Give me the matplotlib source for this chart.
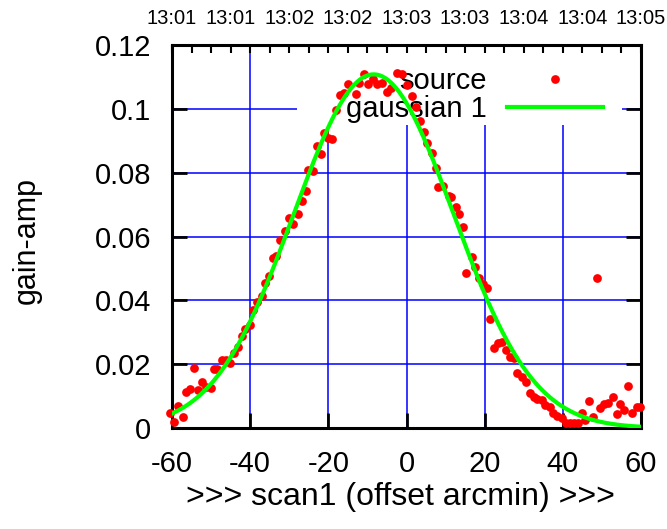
import matplotlib
matplotlib.use("Agg")
import matplotlib.pyplot as plt
import numpy as np
from matplotlib.patches import Rectangle

plt.rcParams['font.family'] = ['Liberation Sans', 'DejaVu Sans']
plt.rcParams['axes.unicode_minus'] = False

# scan data (offset arcmin, gain-amp)
scan_x = [-60.5, -59.4, -58.4, -57.3, -56.3, -55.3, -54.3, -53.3, -52.2, -51.2,
          -50.1, -49.2, -48.4, -47.2, -46.3, -45.1, -44.2, -43.2, -42.2, -41.2,
          -40.0, -39.4, -38.2, -37.1, -36.3, -35.1, -34.2, -33.3, -32.3, -31.2,
          -30.0, -29.0, -27.8, -26.8, -25.8, -25.1, -24.0, -23.0, -22.0, -21.1,
          -20.0, -19.0, -18.0, -17.1, -16.0, -14.9, -13.0, -12.1, -10.9, -9.8,
          -8.6, -7.5, -6.2, -5.1, -4.0, -2.5, -1.2, 0.2, 1.3, 2.4,
          3.5, 4.5, 5.3, 6.5, 7.6, 8.1, 9.4, 11.0, 11.5, 12.7,
          13.5, 14.5, 15.3, 16.7, 17.6, 18.5, 19.5, 20.5, 21.4, 22.4,
          23.5, 24.5, 25.5, 26.5, 27.4, 28.4, 29.5, 30.6, 31.6, 32.5,
          33.5, 34.6, 35.4, 36.6, 37.6, 38.6, 39.7, 40.8, 41.8, 42.9,
          44.0, 44.8, 45.7, 46.8, 47.6, 48.7, 49.5, 50.5, 51.6, 52.8,
          53.8, 54.6, 55.7, 56.8, 57.8, 58.9, 59.8]
scan_y = [0.0047, 0.0018, 0.0069, 0.0033, 0.0114, 0.0121, 0.0189, 0.0119, 0.0145, 0.0130,
          0.0125, 0.0184, 0.0185, 0.0213, 0.0213, 0.0205, 0.0234, 0.0254, 0.0287, 0.0311,
          0.0324, 0.0371, 0.0395, 0.0414, 0.0453, 0.0475, 0.0533, 0.0538, 0.0590, 0.0617,
          0.0657, 0.0638, 0.0669, 0.0711, 0.0741, 0.0808, 0.0804, 0.0884, 0.0858, 0.0923,
          0.0908, 0.0905, 0.0996, 0.1043, 0.1050, 0.1078, 0.1048, 0.1082, 0.1110, 0.1078,
          0.1094, 0.1079, 0.1082, 0.1054, 0.1064, 0.1111, 0.1109, 0.1075, 0.1040, 0.1005,
          0.0963, 0.0928, 0.0892, 0.0861, 0.0814, 0.0756, 0.0758, 0.0727, 0.0725, 0.0693,
          0.0670, 0.0629, 0.0486, 0.0537, 0.0505, 0.0470, 0.0450, 0.0440, 0.0340, 0.0250,
          0.0267, 0.0268, 0.0244, 0.0223, 0.0218, 0.0173, 0.0159, 0.0145, 0.0111, 0.0096,
          0.0090, 0.0088, 0.0072, 0.0065, 0.0046, 0.0038, 0.0030, 0.0017, 0.0015, 0.0015,
          0.0015, 0.0046, 0.0025, 0.0086, 0.0035, 0.0469, 0.0062, 0.0075, 0.0077, 0.0098,
          0.0044, 0.0075, 0.0056, 0.0132, 0.0048, 0.0067, 0.0065]

# gaussian fit parameters
fit_amp = 0.1108
fit_center = -8.4
fit_sigma = 20.4

# top axis time labels
time_pos = [-60, -45, -30, -15, 0, 15, 30, 45, 60]
time_labels = ['13:01', '13:01', '13:02', '13:02', '13:03', '13:03', '13:04', '13:04', '13:05']

fig = plt.figure(figsize=(6.67, 5.29), dpi=100)
ax = fig.add_axes([172/667, 1 - 428/529, 469/667, 383/529])

fx = np.linspace(-60, 60, 400)
fy = fit_amp * np.exp(-(fx - fit_center)**2 / (2 * fit_sigma**2))

ax.plot(scan_x, scan_y, 'o', color='#ff0000', markersize=6.3, markeredgewidth=0,
        label='source', zorder=3, clip_on=False)
ax.plot(fx, fy, '-', color='#00ff00', linewidth=3, label='gaussian 1', zorder=4)

ax.set_xlim(-60, 60)
ax.set_ylim(0, 0.12)
ax.set_xticks([-60, -40, -20, 0, 20, 40, 60])
ax.set_yticks([0, 0.02, 0.04, 0.06, 0.08, 0.1, 0.12])
ax.set_yticklabels(['0', '0.02', '0.04', '0.06', '0.08', '0.1', '0.12'])
ax.set_axisbelow(True)
ax.grid(True, color='#0000ff', linewidth=1.1)
ax.tick_params(axis='both', direction='in', length=11, width=2, labelsize=21,
               top=True, right=True, labeltop=False)
ax.tick_params(axis='x', pad=16)
ax.tick_params(axis='y', pad=15)
for s in ax.spines.values():
    s.set_linewidth(2.2)

# white key area covering the grid
ax.add_patch(Rectangle((0.2665, 0.791), 0.692, 0.209, transform=ax.transAxes,
                       facecolor='white', edgecolor='none', zorder=1))

leg = ax.legend(loc='upper right', bbox_to_anchor=((603 - 172) / 469, (428 - 67) / 383),
                markerfirst=False, frameon=False, fontsize=21, handlelength=3.3,
                handletextpad=0.7, labelspacing=0.0, borderpad=0, borderaxespad=0,
                numpoints=1)
leg.set_zorder(2)

ax2 = ax.twiny()
ax2.set_xlim(-60, 60)
ax2.set_xticks(time_pos)
ax2.set_xticklabels(time_labels)
ax2.set_xticks(np.arange(-60, 61, 5), minor=True)
ax2.tick_params(axis='x', which='both', direction='in', length=6, width=1.5,
                labelsize=14.5, pad=12)
for s in ax2.spines.values():
    s.set_visible(False)

fig.text(27/667, 1 - 240/529, 'gain-amp', rotation=90, fontsize=22,
         ha='center', va='center')
fig.text(400/667, 1 - 497/529, '>>> scan1 (offset arcmin) >>>', fontsize=23,
         ha='center', va='center')

fig.savefig('out.png', dpi=100)
